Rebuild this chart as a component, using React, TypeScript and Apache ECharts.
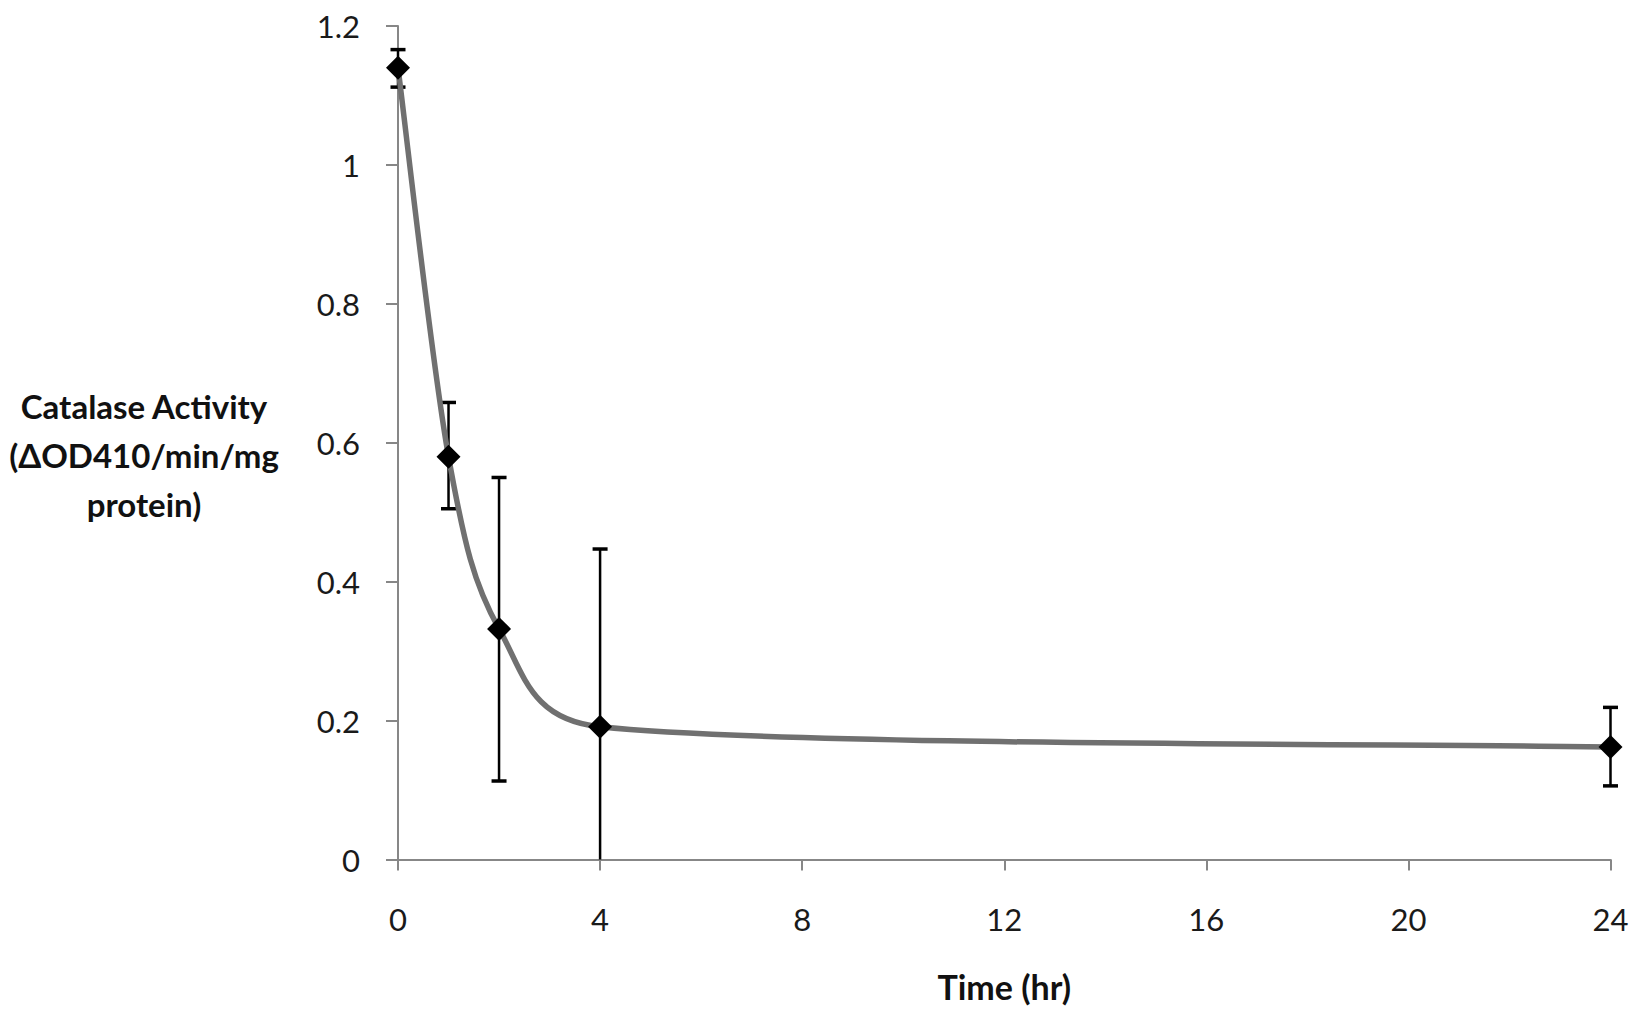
import React, { useEffect, useRef } from "react";
import * as echarts from "echarts";

const timeHr = [0, 1, 2, 4, 24];
const activity = [1.14, 0.58, 0.332, 0.191, 0.162];
const errLow = [1.112, 0.505, 0.113, 0.0, 0.106];
const errHigh = [1.166, 0.658, 0.55, 0.447, 0.219];

const xTicks = { min: 0, max: 24, interval: 4 };
const yTicks = { min: 0, max: 1.2, interval: 0.2 };

const yTitleLines = ["Catalase Activity", "(ΔOD410/min/mg", "protein)"];
const xTitle = "Time (hr)";

const FONT = "Lato, 'Open Sans', 'Noto Sans', sans-serif";

export default function App() {
  const ref = useRef<HTMLDivElement>(null);

  useEffect(() => {
    if (!ref.current) return;
    const chart = echarts.init(ref.current, undefined, { renderer: "svg" });

    const n = timeHr.length;
    const errData = timeHr.map((t, i) => [t, errLow[i], errHigh[i]]);
    const pointData = timeHr.map((t, i) => [t, activity[i]]);
    const segData = timeHr.slice(0, n - 1).map((t, i) => [t, activity[i], timeHr[i + 1], activity[i + 1]]);

    const option: any = {
      animation: false,
      backgroundColor: "#ffffff",
      grid: { left: 398, right: 26.5, top: 26, bottom: 151.5, containLabel: false },
      xAxis: {
        type: "value",
        min: xTicks.min,
        max: xTicks.max,
        interval: xTicks.interval,
        name: xTitle,
        nameLocation: "middle",
        nameGap: 110,
        nameTextStyle: { fontFamily: FONT, fontWeight: "bold", fontSize: 34, color: "#111" },
        axisLine: { show: true, onZero: false, lineStyle: { color: "#878787", width: 2 } },
        axisTick: { show: true, inside: false, length: 11, lineStyle: { color: "#878787", width: 2 } },
        axisLabel: { fontFamily: FONT, fontSize: 31, color: "#1a1a1a", margin: 44 },
        splitLine: { show: false },
      },
      yAxis: {
        type: "value",
        min: yTicks.min,
        max: yTicks.max,
        interval: yTicks.interval,
        axisLine: { show: true, lineStyle: { color: "#878787", width: 2 } },
        axisTick: { show: true, inside: false, length: 12, lineStyle: { color: "#878787", width: 2 } },
        axisLabel: {
          fontFamily: FONT,
          fontSize: 31,
          color: "#1a1a1a",
          margin: 38,
          formatter: (v: number) => String(Math.round(v * 10) / 10),
        },
        splitLine: { show: false },
      },
      graphic: [
        {
          type: "text",
          x: 144,
          y: 455,
          style: {
            text: yTitleLines.join("\n"),
            textAlign: "center",
            textVerticalAlign: "middle",
            verticalAlign: "middle",
            fontFamily: FONT,
            fontWeight: "bold",
            fontSize: 33,
            lineHeight: 49,
            fill: "#111",
          },
        },
      ],
      series: [
        {
          type: "custom",
          z: 1,
          data: errData,
          encode: { x: 0, y: [1, 2] },
          renderItem: (params: any, api: any) => {
            const x = api.value(0);
            const lo = api.coord([x, api.value(1)]);
            const hi = api.coord([x, api.value(2)]);
            const half = 7.5;
            const children: any[] = [
              { type: "line", shape: { x1: lo[0], y1: lo[1], x2: hi[0], y2: hi[1] }, style: { stroke: "#000", lineWidth: 2.5 } },
              { type: "line", shape: { x1: hi[0] - half, y1: hi[1], x2: hi[0] + half, y2: hi[1] }, style: { stroke: "#000", lineWidth: 3.5 } },
            ];
            if (api.value(1) > 0) {
              children.push({ type: "line", shape: { x1: lo[0] - half, y1: lo[1], x2: lo[0] + half, y2: lo[1] }, style: { stroke: "#000", lineWidth: 3.5 } });
            }
            return { type: "group", children };
          },
        },
        {
          type: "custom",
          z: 2,
          data: segData,
          encode: { x: [0, 2], y: [1, 3] },
          renderItem: (params: any, api: any) => {
            const i = params.dataIndex;
            const P = (k: number) => {
              const kk = Math.max(0, Math.min(n - 1, k));
              return api.coord([timeHr[kk], activity[kk]]);
            };
            const dist = (a: number[], b: number[]) => Math.hypot(a[0] - b[0], a[1] - b[1]);
            // Excel-like smoothing: handle = (next - prev) / 6, capped at half the segment
            const handle = (k: number) => {
              const prev = P(k - 1);
              const next = P(k + 1);
              return [(next[0] - prev[0]) / 6, (next[1] - prev[1]) / 6];
            };
            const a = P(i);
            const b = P(i + 1);
            const L = dist(a, b);
            const cap = (v: number[]) => {
              const len = Math.hypot(v[0], v[1]);
              const s = len > L / 2 ? L / 2 / len : 1;
              return [v[0] * s, v[1] * s];
            };
            const h1 = cap(handle(i));
            const h2 = cap(handle(i + 1));
            return {
              type: "bezierCurve",
              shape: {
                x1: a[0], y1: a[1], x2: b[0], y2: b[1],
                cpx1: a[0] + h1[0], cpy1: a[1] + h1[1],
                cpx2: b[0] - h2[0], cpy2: b[1] - h2[1],
              },
              style: { stroke: "#707070", lineWidth: 5.5, fill: null, lineCap: "round" },
            };
          },
        },
        {
          type: "scatter",
          z: 3,
          data: pointData,
          symbol: "diamond",
          symbolSize: [24, 24],
          itemStyle: { color: "#000", opacity: 1 },
        },
      ],
    };

    chart.setOption(option);
    return () => chart.dispose();
  }, []);

  return (
    <div
      ref={ref}
      style={{ position: "fixed", left: 0, top: 0, width: 1637, height: 1011, background: "#fff" }}
    />
  );
}
